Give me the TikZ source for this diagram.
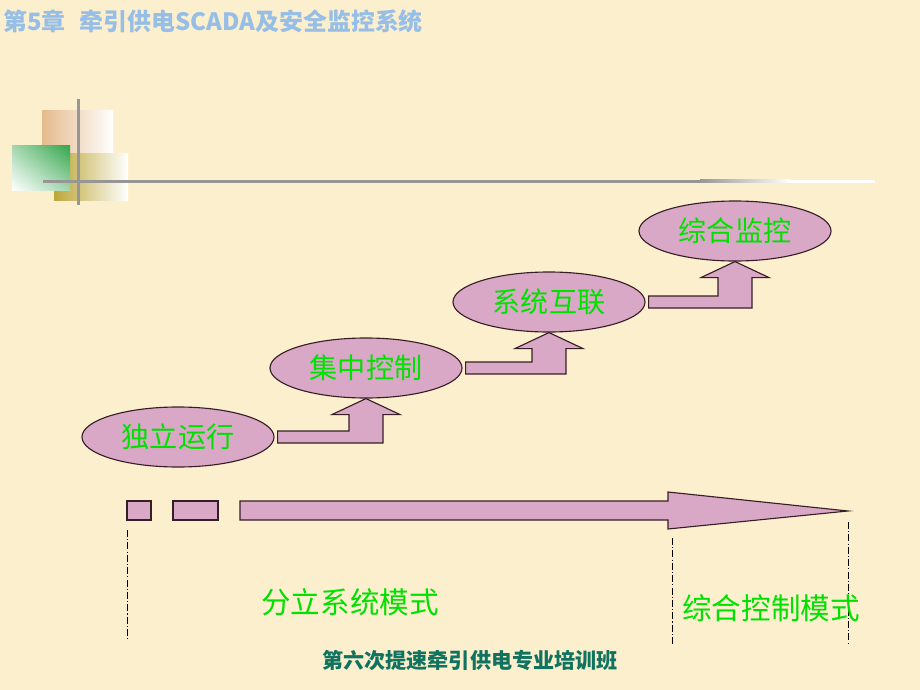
\documentclass[tikz,border=0pt]{standalone}
\usepackage{fontspec}
\setmainfont{Noto Sans CJK SC}
\usetikzlibrary{shapes.geometric,calc,shadings}
\definecolor{paper}{RGB}{252,239,206}
\definecolor{mauve}{RGB}{217,168,199}
\definecolor{rim}{RGB}{55,30,38}
\definecolor{stagegreen}{RGB}{0,225,0}
\definecolor{heading}{RGB}{150,190,230}
\definecolor{coursegreen}{RGB}{15,115,95}
\definecolor{decotan}{RGB}{228,186,140}
\definecolor{decoolive}{RGB}{188,166,55}
\definecolor{decogreen}{RGB}{50,165,75}
\definecolor{linegray}{RGB}{150,150,150}

\begin{document}
\begin{tikzpicture}[x=0.025cm,y=-0.025cm,
  stage/.style={ellipse,draw=rim,line width=0.8pt,fill=mauve,minimum width=4.8cm,minimum height=1.5cm,inner sep=0pt,text=stagegreen,font=\fontsize{20}{24}\selectfont},
  bendarrow/.style={draw=rim,line width=0.8pt,fill=mauve},
  mode/.style={text=stagegreen,font=\fontsize{21}{25}\selectfont},
  guide/.style={line width=0.6pt,dash pattern=on 5pt off 1.5pt on 0.8pt off 1.5pt}]
\useasboundingbox (0,0) rectangle (920,690);
\fill[paper] (0,0) rectangle (920,690);

% corner decoration
\shade[left color=decotan,middle color=decotan!80,right color=white] (42,110) rectangle (113,153);
\shade[left color=decoolive,middle color=decoolive!85,right color=white] (54,153) rectangle (128,200);
\shade[upper right=decogreen,upper left=decogreen!45,lower right=decogreen!45,lower left=white] (12,145) rectangle (70,190);
\fill[linegray] (76.5,99) rectangle (79.5,205);
\fill[linegray] (43,179.5) rectangle (700,182.5);
\shade[left color=linegray,right color=white] (700,179.5) rectangle (790,182.5);
\fill[white] (790,179.5) rectangle (875,182.5);

\node[anchor=west,inner sep=0pt,text=heading,font=\bfseries\fontsize{17}{20}\selectfont] (chapter) at (3,21) {第5章\hspace{0.6em}牵引供电SCADA及安全监控系统};

% stages
\node[stage] (stand) at (178,437) {独立运行};
\node[stage] (central) at (366,368) {集中控制};
\node[stage] (linked) at (549,302) {系统互联};
\node[stage] (overall) at (735,231) {综合监控};

\foreach \a/\b in {stand/central,central/linked,linked/overall}{
  \coordinate (p) at ($(\a.east)+(3,0)$);
  \coordinate (q) at (\b.south);
  \draw[bendarrow] ($(p)+(0,-6)$) -- ($(q|-p)+(-17,-6)$) -- ($(q)+(-17,16)$) -- ($(q)+(-34,16)$) -- (q)
    -- ($(q)+(34,16)$) -- ($(q)+(17,16)$) -- ($(q|-p)+(17,6)$) -- ($(p)+(0,6)$) -- cycle;
}

% time line
\draw[bendarrow] (127,501) rectangle (151,520);
\draw[bendarrow] (173,501) rectangle (218,520);
\draw[bendarrow] (240,501) -- (668,501) -- (668,492) -- (848,511) -- (668,529) -- (668,520) -- (240,520) -- cycle;
\draw[guide] (127,530) -- (127,640);
\draw[guide] (672,538) -- (672,645);
\draw[guide] (848,522) -- (848,645);

\node[mode] (split) at (350,602) {分立系统模式};
\node[mode] (unified) at (771,608) {综合控制模式};

\node[text=coursegreen,font=\bfseries\fontsize{15}{18}\selectfont] (course) at (470,660) {第六次提速牵引供电专业培训班};
\end{tikzpicture}
\end{document}
